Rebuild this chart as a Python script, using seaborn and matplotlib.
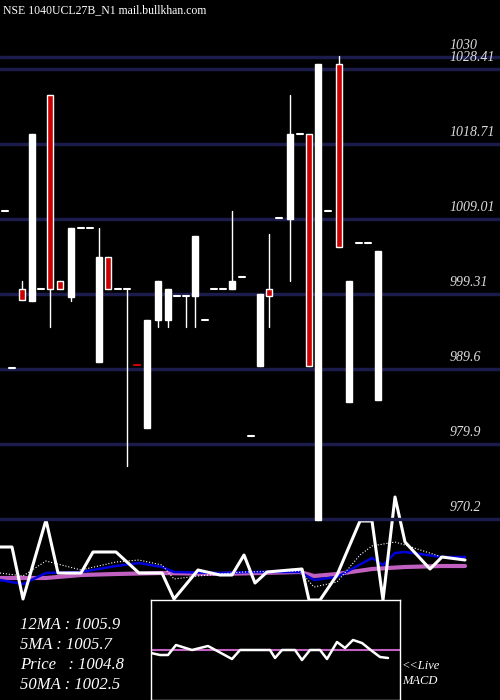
import numpy as np
import pandas as pd
import matplotlib
matplotlib.use("Agg")
import matplotlib.pyplot as plt
import seaborn as sns

sns.set_theme(style="dark")
plt.rcParams['font.family'] = ['Liberation Serif', 'DejaVu Serif']

# --- candle data (x in chart pixels, prices) ---
cx     = [5, 12, 22, 32, 41, 50, 60, 71, 81, 90, 99, 108, 118, 127, 137, 147, 158, 168, 177, 186, 195, 205, 214, 223, 232, 242, 251, 260, 269, 279, 290, 300, 309, 318, 328, 339, 349, 359, 368, 378]
c_open = [1010.0, 989.8, 1000.0, 998.4, 1000.0, 1025.0, 1000.95, 998.96, 1007.9, 1007.9, 990.5, 1004.06, 1000.0, 1000.0, 990.1, 982.0, 995.9, 995.9, 999.0, 999.0, 999.0, 996.0, 1000.0, 1000.0, 1000.0, 1001.5, 981.0, 990.0, 1000.0, 1009.1, 1009.0, 1019.97, 1019.97, 970.1, 1010.0, 1029.0, 985.4, 1005.9, 1005.9, 985.6]
c_close = [1010.0, 989.8, 998.5, 1019.97, 1000.0, 1000.0, 1000.0, 1007.9, 1007.9, 1007.9, 1004.06, 1000.0, 1000.0, 1000.0, 990.1, 996.0, 1001.0, 1000.0, 999.0, 999.0, 1006.8, 996.0, 1000.0, 1000.0, 1001.0, 1001.5, 981.0, 999.3, 999.0, 1009.1, 1019.97, 1019.97, 990.0, 1029.06, 1010.0, 1005.4, 1001.0, 1005.9, 1005.9, 1004.9]
c_high = [1010.0, 989.8, 1001.0, 1019.97, 1000.0, 1025.0, 1000.95, 1007.9, 1007.9, 1007.9, 1007.9, 1004.06, 1000.0, 1000.0, 990.1, 996.0, 1001.0, 1000.0, 999.0, 999.0, 1006.8, 996.0, 1000.0, 1000.0, 1010.0, 1001.5, 981.0, 999.3, 1007.1, 1009.1, 1025.0, 1019.97, 1019.97, 1029.06, 1010.0, 1030.1, 1001.0, 1005.9, 1005.9, 1004.9]
c_low = [1010.0, 989.8, 998.5, 998.4, 1000.0, 995.1, 1000.0, 998.4, 1007.9, 1007.9, 990.5, 1000.0, 1000.0, 977.1, 990.1, 982.0, 995.1, 995.1, 999.0, 995.1, 995.1, 996.0, 1000.0, 1000.0, 1000.0, 1001.5, 981.0, 990.0, 995.1, 1009.1, 1001.0, 1019.97, 990.0, 970.1, 1010.0, 1005.4, 985.4, 1005.9, 1005.9, 985.6]
c_down = [False, False, True, False, False, True, True, False, False, False, False, True, False, False, True, False, False, False, False, False, False, False, False, False, False, False, False, False, True, False, False, False, True, False, False, True, False, False, False, False]

grid_levels = [1030, 1028.41, 1018.71, 1009.01, 999.31, 989.6, 979.9, 970.2]
grid_labels = ["1030", "1028.41", "1018.71", "1009.01", "999.31", "989.6", "979.9", "970.2"]

# --- moving averages (pixel rows in lower strip) ---
price_x = [0, 12, 23, 46, 58, 81, 93, 116, 139, 162, 174, 198, 220, 232, 244, 255, 267, 290, 302, 309, 320, 337, 360, 372, 383, 395, 405, 430, 442, 465]
price_y = [547, 547, 599, 520, 573, 573, 552, 552, 573, 573, 599, 570, 575, 575, 555, 583, 572, 570, 569, 600, 600, 575, 521, 521, 600, 497, 542, 569, 557, 560]
ma12_x = [0, 23, 46, 81, 116, 139, 162, 174, 220, 250, 300, 314, 337, 372, 383, 395, 405, 442, 465]
ma12_y = [580, 584, 573, 572, 566, 563, 567, 572, 573, 572, 572, 580, 577, 558, 565, 553, 552, 557, 557]
ma50_x = [0, 46, 81, 116, 162, 220, 300, 314, 337, 372, 405, 442, 465]
ma50_y = [578, 578, 575, 574, 573, 574, 572, 576, 574, 569, 567, 566, 566]
ma5_x = [0, 23, 46, 81, 116, 139, 162, 174, 198, 244, 300, 314, 337, 360, 372, 395, 405, 442, 465]
ma5_y = [573, 576, 561, 570, 562, 560, 565, 579, 576, 572, 571, 587, 582, 555, 546, 542, 545, 557, 560]

macd_x = [151, 160, 168, 176, 192, 208, 232, 240, 270, 275, 282, 295, 302, 310, 320, 327, 337, 345, 353, 362, 372, 380, 388]
macd_y = [653, 655, 655, 645, 650, 646, 659, 650, 650, 658, 650, 650, 660, 650, 650, 659, 642, 648, 640, 643, 651, 657, 658]

fig = plt.figure(figsize=(5, 7), dpi=100)
fig.patch.set_facecolor("black")

# pixel axes (background, indicators, text)
ax = fig.add_axes([0, 0, 1, 1])
ax.set_facecolor("black")
ax.set_xlim(0, 500)
ax.set_ylim(700, 0)
ax.axis("off")

# price axes for candles and grid
axp = fig.add_axes([0, 0, 1, 1])
axp.patch.set_alpha(0)
axp.set_xlim(0, 500)
axp.set_ylim(946.8, 1037.34)
axp.axis("off")

for lvl, lab in zip(grid_levels, grid_labels):
    axp.axhline(lvl, color="#1c1c4c", lw=2.5, zorder=1)
    axp.text(450, lvl + 0.6, lab, color="#dddddd", fontsize=10, style="italic", va="bottom", ha="left")

bw = 6.5
for x, o, c, h, l, d in zip(cx, c_open, c_close, c_high, c_low, c_down):
    axp.plot([x, x], [l, h], color="white", lw=1, zorder=2)
    lo, hi = min(o, c), max(o, c)
    if hi - lo < 0.3:
        axp.plot([x - bw / 2, x + bw / 2], [o, o], color="#cc0000" if d else "white", lw=1.5, zorder=3)
    else:
        axp.add_patch(plt.Rectangle((x - bw / 2, lo), bw, hi - lo,
                                    facecolor="#cc0000" if d else "white",
                                    edgecolor="white", lw=1, zorder=3))

ax.text(3, 10, "NSE 1040UCL27B_N1 mail.bullkhan.com", color="white", fontsize=8.5, va="center")

sns.lineplot(x=ma50_x, y=ma50_y, ax=ax, color="#c060c0", lw=3, sort=False, zorder=4)
sns.lineplot(x=ma12_x, y=ma12_y, ax=ax, color="#0000dd", lw=1.8, sort=False, zorder=4)
sns.lineplot(x=ma5_x, y=ma5_y, ax=ax, color="white", lw=0.8, ls=":", sort=False, zorder=4)
sns.lineplot(x=price_x, y=price_y, ax=ax, color="white", lw=2.2, sort=False, zorder=5)

# MACD inset
axm = fig.add_axes([151 / 500, 0, 249 / 500, 100 / 700])
axm.set_facecolor("black")
axm.set_xlim(151, 400)
axm.set_ylim(700, 600)
axm.set_xticks([]); axm.set_yticks([])
for s in axm.spines.values():
    s.set_color("white"); s.set_linewidth(1)
axm.axhline(650, color="#c060c0", lw=1.5)
sns.lineplot(x=macd_x, y=macd_y, ax=axm, color="white", lw=1.8, sort=False)

for i, t in enumerate(["12MA : 1005.9", "5MA : 1005.7", "Price   : 1004.8", "50MA : 1002.5"]):
    ax.text(20, 625 + 20 * i, t, color="white", fontsize=12, style="italic", va="center")
ax.text(402, 666, "<<Live", color="white", fontsize=9, style="italic", va="center")
ax.text(402, 681, "MACD", color="white", fontsize=9, style="italic", va="center")

fig.savefig("out.png", dpi=100, facecolor="black")
